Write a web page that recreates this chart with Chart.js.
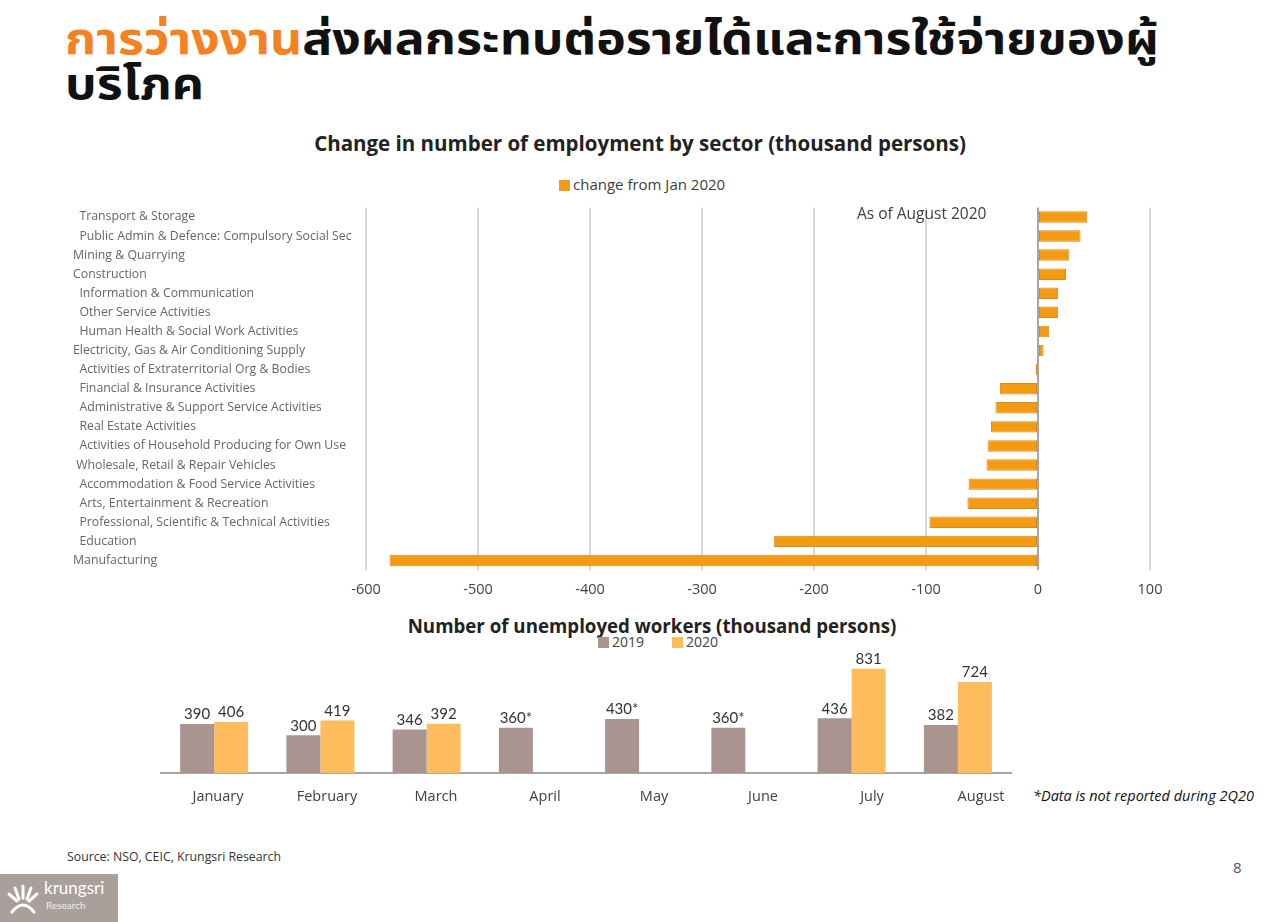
<!DOCTYPE html>
<html>
<head>
<meta charset="utf-8">
<script src="https://cdn.jsdelivr.net/npm/chart.js@4/dist/chart.umd.min.js"></script>
<style>
  body { margin: 0; background: #fff; font-family: 'Open Sans', sans-serif; }
  #page { position: relative; width: 1280px; height: 922px; overflow: hidden; }
  .abs { position: absolute; white-space: nowrap; }
  #headline { left: 65px; top: 18px; font-family: 'Noto Sans Thai', 'Noto Sans', 'DejaVu Sans', sans-serif; font-weight: 700; font-size: 44px; line-height: 45px; color: #111; transform: scaleX(1.135); transform-origin: left top; }
  #headline .hl { color: #F58220; }
  .ctitle { font-weight: 700; color: #222; transform: translateX(-50%); }
  .legend { font-family: 'Open Sans', sans-serif; font-size: 15px; color: #404040; }
  .sw { display: inline-block; width: 11px; height: 11px; margin-right: 3px; vertical-align: -1px; }
</style>
</head>
<body>
<div id="page">
  <div id="headline" class="abs"><span class="hl">การว่างงาน</span>ส่งผลกระทบต่อรายได้และการใช้จ่ายของผู้<br>บริโภค</div>

  <div class="abs ctitle" style="left:640px; top:129px; font-size:20.5px;">Change in number of employment by sector (thousand persons)</div>
  <div class="abs legend" style="left:559px; top:174px;"><span class="sw" style="background:#F49B13"></span>change from Jan 2020</div>
  <div class="abs" style="left:60px; top:200px;"><canvas id="sectorChart" width="1120" height="405"></canvas></div>
  <div class="abs legend" style="left:857px; top:202px; font-size:15.5px;">As of August 2020</div>

  <div class="abs ctitle" style="left:652px; top:613px; font-size:18.7px;">Number of unemployed workers (thousand persons)</div>
  <div class="abs legend" style="left:598px; top:632px; font-size:14px;"><span class="sw" style="background:#A9948F"></span>2019<span style="display:inline-block;width:28px"></span><span class="sw" style="background:#FFBC5C"></span>2020</div>
  <div class="abs" style="left:150px; top:640px;"><canvas id="unempChart" width="880" height="180"></canvas></div>
  <div class="abs" style="left:1033px; top:786px; font-size:14.5px; font-style:italic; color:#111;">*Data is not reported during 2Q20</div>

  <div class="abs" style="left:67px; top:848px; font-size:12.3px; color:#333;">Source: NSO, CEIC, Krungsri Research</div>
  <div class="abs" style="left:1233px; top:857px; font-size:15px; color:#555;">8</div>

  <div class="abs" style="left:0; top:874px; width:118px; height:48px; background:#A9A09B;">
    <svg class="abs" style="left:6px; top:8px;" width="34" height="34" viewBox="0 0 34 34">
      <g fill="none" stroke="#fff" stroke-width="3" stroke-linecap="round">
        <path d="M17 4 L17 16"/><path d="M9 6 L13 17"/><path d="M25 6 L21 17"/>
        <path d="M3 12 L11 19"/><path d="M31 12 L23 19"/>
        <path d="M6 30 Q17 16 28 30"/>
      </g>
    </svg>
    <div class="abs" style="left:44px; top:3px; font-family:'Lato',sans-serif; font-size:17px; color:#fff;">krungsri</div>
    <div class="abs" style="left:46px; top:25px; font-family:'Lato',sans-serif; font-size:10px; color:#eee;">Research</div>
  </div>
</div>

<script>
// top chart: change in employment by sector, Aug 2020 vs Jan 2020
const sectors = [
  '  Transport & Storage',
  '  Public Admin & Defence: Compulsory Social Sec',
  'Mining & Quarrying',
  'Construction',
  '  Information & Communication',
  '  Other Service Activities',
  '  Human Health & Social Work Activities',
  'Electricity, Gas & Air Conditioning Supply',
  '  Activities of Extraterritorial Org & Bodies',
  '  Financial & Insurance Activities',
  '  Administrative & Support Service Activities',
  '  Real Estate Activities',
  '  Activities of Household Producing for Own Use',
  ' Wholesale, Retail & Repair Vehicles',
  '  Accommodation & Food Service Activities',
  '  Arts, Entertainment & Recreation',
  '  Professional, Scientific & Technical Activities',
  '  Education',
  'Manufacturing',
];
const sectorChange = [44, 38, 28, 25, 18, 18, 10, 5, -2, -34, -38, -42, -45, -46, -62, -63, -97, -236, -579];

// bottom chart: unemployed workers
const months = ['January', 'February', 'March', 'April', 'May', 'June', 'July', 'August'];
const unemp2019 = [390, 300, 346, 360, 430, 360, 436, 382];
const unemp2020 = [406, 419, 392, null, null, null, 831, 724];
const labels2019 = ['390', '300', '346', '360*', '430*', '360*', '436', '382'];
const labels2020 = ['406', '419', '392', '', '', '', '831', '724'];
// month name positions (the names sit on a slightly wider spacing than the bars)
const monthTickPos = [0, 1, 2, 3, 4, 5, 6, 7];

const ORANGE = '#F49B13';
const TAUPE = '#A9948F';
const LIGHT_ORANGE = '#FFBC5C';

new Chart(document.getElementById('sectorChart').getContext('2d'), {
  type: 'bar',
  data: {
    labels: sectors,
    datasets: [{
      label: 'change from Jan 2020',
      data: sectorChange,
      backgroundColor: ORANGE,
      borderColor: '#D98A1C',
      borderWidth: 1,
      borderSkipped: false,
      categoryPercentage: 1,
      barPercentage: 0.6,
    }]
  },
  options: {
    indexAxis: 'y',
    responsive: false,
    animation: false,
    layout: { padding: { left: 13, right: 30, top: 7, bottom: 0 } },
    plugins: { legend: { display: false }, tooltip: { enabled: false } },
    scales: {
      x: {
        min: -600, max: 100,
        ticks: { stepSize: 100, color: '#404040', font: { family: 'Open Sans', size: 14.5 }, padding: 11 },
        grid: {
          drawTicks: false,
          lineWidth: 2,
          color: c => (c.tick && c.tick.value === 0 ? '#A6A6A6' : '#D9D9D9'),
        },
        border: { display: false },
        afterFit: s => { s.height = 35; },
      },
      y: {
        ticks: { color: '#666', font: { family: 'Open Sans', size: 12.3 }, crossAlign: 'far', autoSkip: false, padding: 0 },
        grid: { display: false },
        border: { display: false },
        afterFit: s => { s.width = 293; },
      }
    }
  }
});

const valueLabels = {
  id: 'valueLabels',
  afterDatasetsDraw(chart) {
    const ctx = chart.ctx;
    const texts = [labels2019, labels2020];
    ctx.save();
    ctx.font = '15px Lato';
    ctx.fillStyle = '#333';
    ctx.textAlign = 'center';
    ctx.textBaseline = 'bottom';
    chart.data.datasets.forEach((ds, i) => {
      chart.getDatasetMeta(i).data.forEach((bar, j) => {
        if (ds.data[j] == null) return;
        ctx.fillText(texts[i][j], bar.x, bar.y - 2);
      });
    });
    ctx.restore();
  }
};

new Chart(document.getElementById('unempChart').getContext('2d'), {
  type: 'bar',
  data: {
    labels: months,
    datasets: [
      { label: '2019', data: unemp2019, backgroundColor: TAUPE, categoryPercentage: 0.64, barPercentage: 1 },
      { label: '2020', data: unemp2020, backgroundColor: LIGHT_ORANGE, categoryPercentage: 0.64, barPercentage: 1 },
    ]
  },
  options: {
    responsive: false,
    animation: false,
    layout: { padding: { left: 11, right: 19, top: 20, bottom: 0 } },
    plugins: { legend: { display: false }, tooltip: { enabled: false } },
    scales: {
      x: { display: false },
      xLabels: {
        type: 'linear',
        position: 'bottom',
        offset: false,
        min: -0.523, max: 7.275,
        afterBuildTicks: s => { s.ticks = monthTickPos.map(v => ({ value: v })); },
        ticks: {
          autoSkip: false,
          maxRotation: 0,
          callback: (v, i) => months[i],
          color: '#404040', font: { family: 'Open Sans', size: 14.5 }, padding: 15,
        },
        grid: { display: false, drawTicks: false, offset: false },
        border: { display: true, color: '#A6A6A6', width: 2 },
        afterFit: s => { s.height = 47; },
      },
      y: { display: false, min: 0, max: 900 }
    }
  },
  plugins: [valueLabels]
});
</script>
</body>
</html>
